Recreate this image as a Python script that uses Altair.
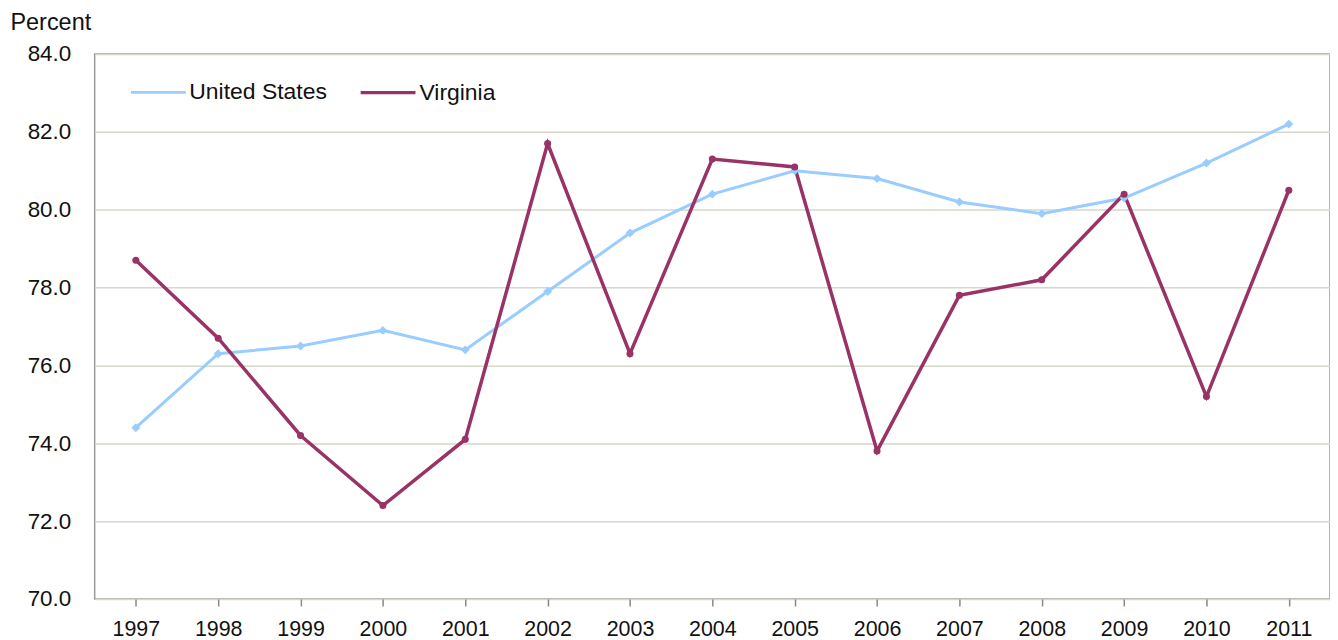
import altair as alt
import pandas as pd

years = [str(y) for y in range(1997, 2012)]
us_values = [74.4, 76.3, 76.5, 76.9, 76.4, 77.9, 79.4, 80.4, 81.0, 80.8, 80.2, 79.9, 80.3, 81.2, 82.2]
va_values = [78.7, 76.7, 74.2, 72.4, 74.1, 81.7, 76.3, 81.3, 81.1, 73.8, 77.8, 78.2, 80.4, 75.2, 80.5]
series_names = ["United States", "Virginia"]
series_colors = ["#99ccff", "#993366"]
y_ticks = [70, 72, 74, 76, 78, 80, 82, 84]

rows = []
for name, vals in zip(series_names, [us_values, va_values]):
    for yr, v in zip(years, vals):
        rows.append({"year": yr, "value": v, "series": name})
df = pd.DataFrame(rows)

FONT = "Liberation Sans"
TXT = "#111111"

x_enc = alt.X(
    "year:O",
    scale=alt.Scale(type="point", padding=0.5),
    axis=alt.Axis(
        title=None, labelAngle=0, labelFontSize=21.5, labelFont=FONT, labelColor=TXT,
        tickSize=7, tickColor="#888888", tickWidth=1.5, labelPadding=13,
        domain=False, grid=False,
    ),
)
y_enc = alt.Y(
    "value:Q",
    scale=alt.Scale(domain=[70, 84], nice=False, zero=False),
    axis=alt.Axis(
        values=y_ticks, format=".1f", title="Percent", titleAngle=0, titleAlign="left",
        titleBaseline="alphabetic", titleX=-85, titleY=-25, titleFont=FONT,
        titleFontSize=23.5, titleFontWeight="normal", titleColor=TXT,
        labelFontSize=22.5, labelFont=FONT, labelColor=TXT, labelPadding=24,
        ticks=False, domain=False, grid=True, gridColor="#d4d9cc", gridWidth=1.5,
    ),
)
color_scale = alt.Scale(domain=series_names, range=series_colors)

lines = alt.Chart(df).mark_line().encode(
    x=x_enc, y=y_enc,
    color=alt.Color(
        "series:N", scale=color_scale,
        legend=alt.Legend(
            title=None, orient="none", legendX=35, legendY=9, direction="horizontal",
            symbolType="stroke", symbolSize=3025, symbolStrokeWidth=3,
            labelFontSize=23, labelFont=FONT, labelColor=TXT, labelOffset=2,
            columnPadding=26, padding=0,
        ),
    ),
    strokeWidth=alt.StrokeWidth("series:N", scale=alt.Scale(domain=series_names, range=[3, 3.5]), legend=None),
)

us_points = alt.Chart(df).transform_filter(
    alt.datum.series == series_names[0]
).mark_point(filled=True, opacity=1, shape="diamond", size=80).encode(
    x=x_enc, y=y_enc,
    color=alt.Color("series:N", scale=color_scale, legend=None),
)
va_points = alt.Chart(df).transform_filter(
    alt.datum.series == series_names[1]
).mark_point(filled=True, opacity=1, shape="circle", size=50).encode(
    x=x_enc, y=y_enc,
    color=alt.Color("series:N", scale=color_scale, legend=None),
)

chart = (
    alt.layer(lines, us_points, va_points)
    .properties(
        width=1240, height=547,
        autosize=alt.AutoSizeParams(type="none"),
        padding={"left": 87, "top": 45, "right": 0, "bottom": 42},
        background="white",
    )
    .configure_view(stroke="#999999", strokeWidth=1.5)
)

chart.save("out.html", embed_options={"renderer": "svg", "actions": False})
